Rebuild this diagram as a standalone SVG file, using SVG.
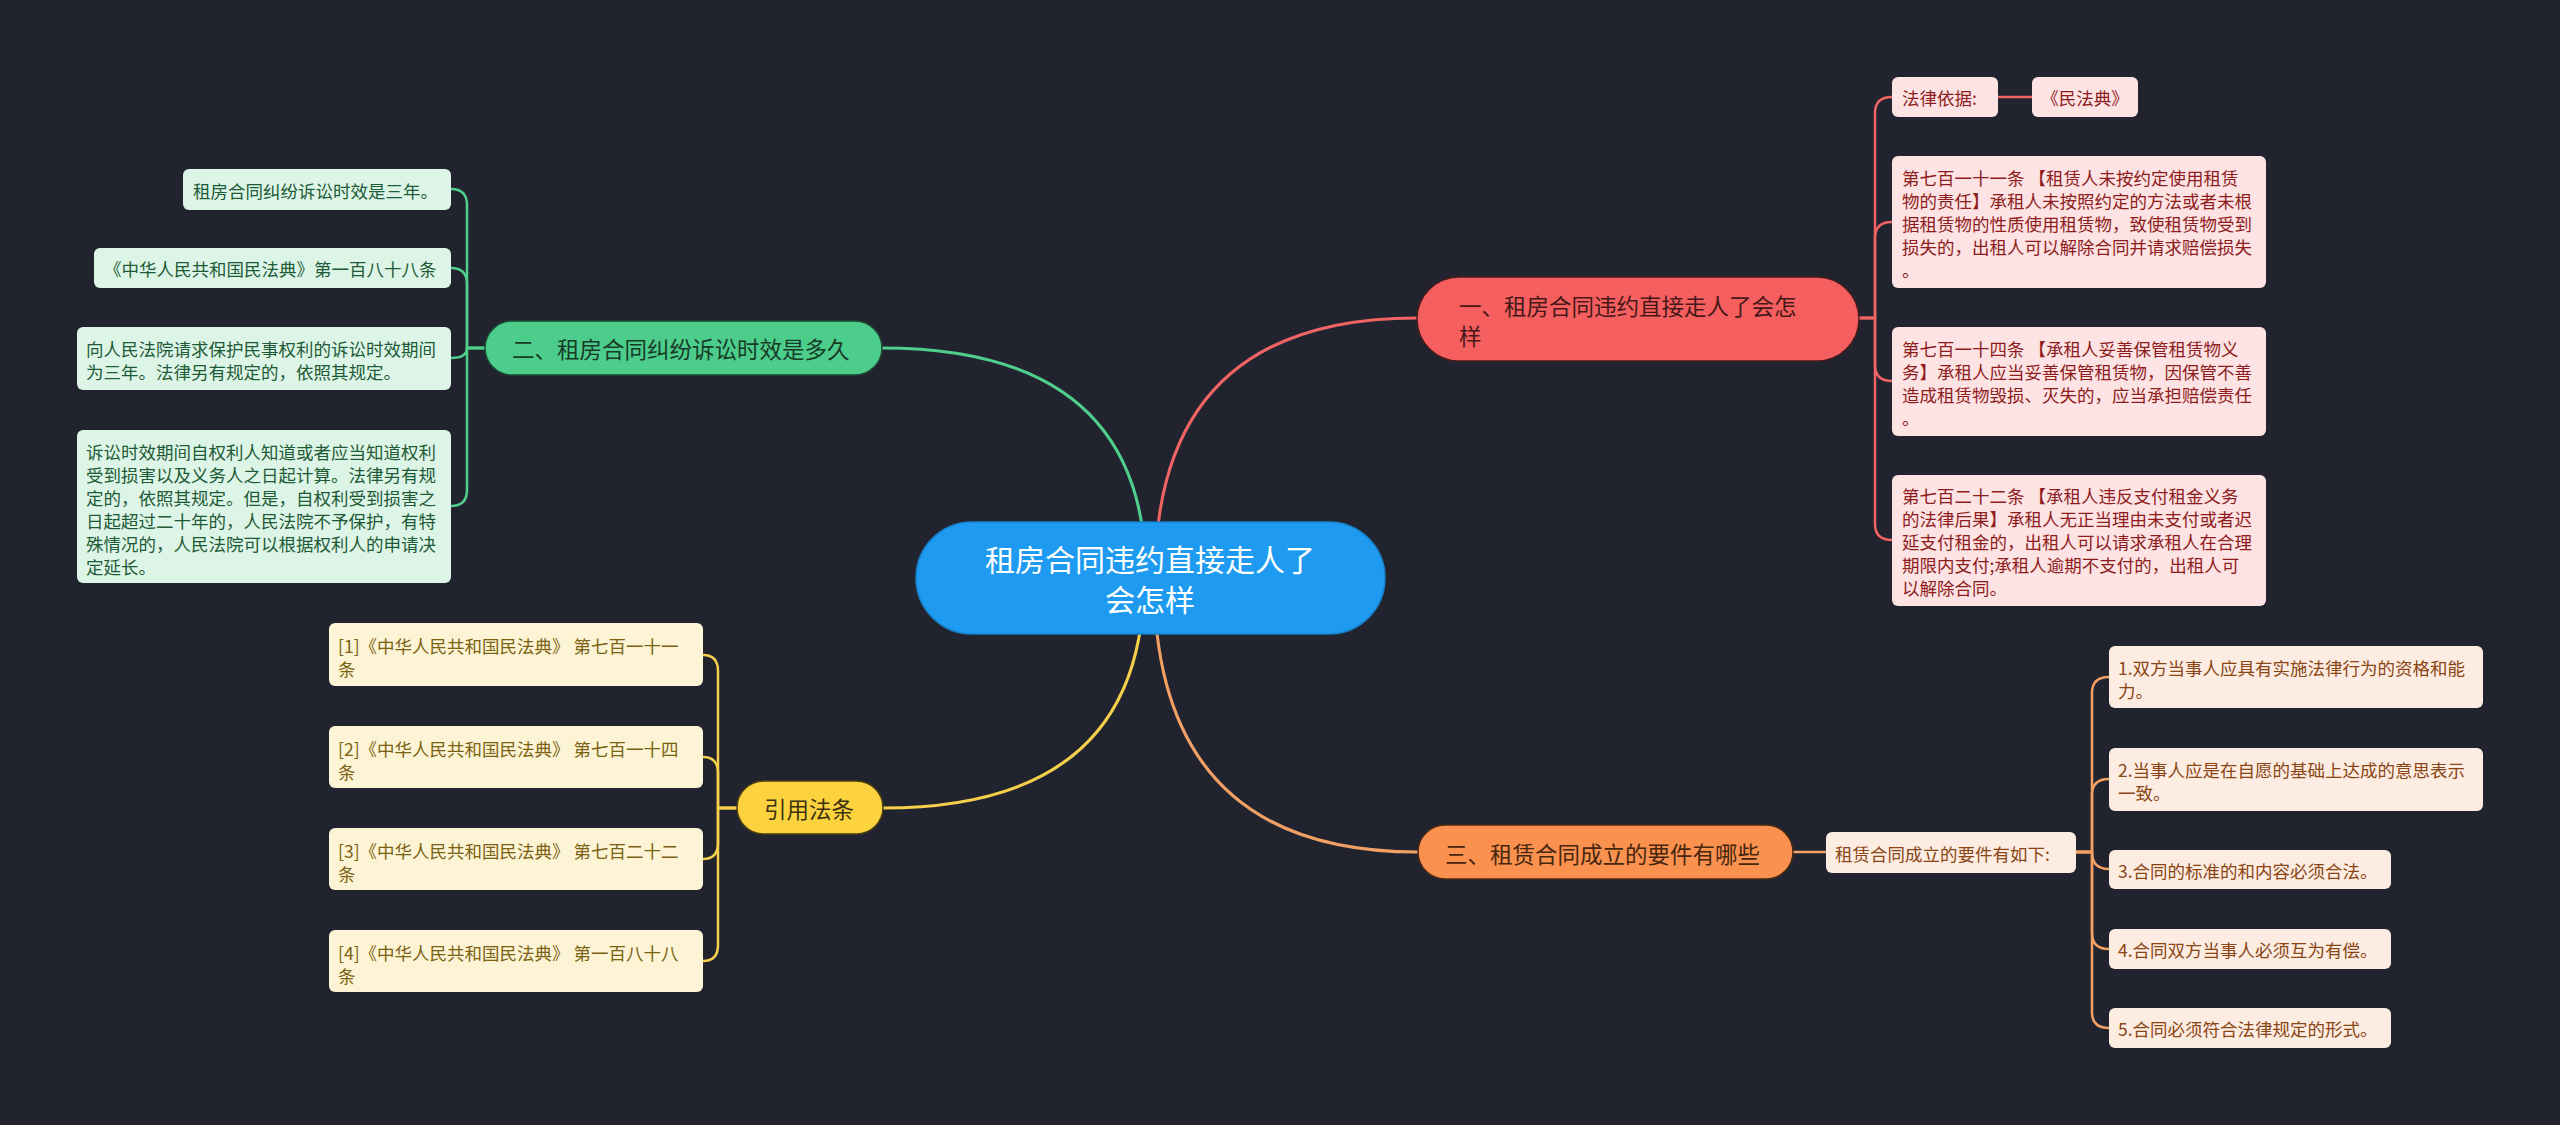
<svg xmlns="http://www.w3.org/2000/svg" width="2560" height="1125" viewBox="0 0 2560 1125">
<style>
text{font-family:"Noto Sans CJK SC","Noto Sans",sans-serif;dominant-baseline:central}
.c{fill:none;stroke-linecap:round;stroke-linejoin:round}
.g{stroke:#4fce8c}.r{stroke:#f06464}.y{stroke:#f5d04a}.o{stroke:#f2a064}
.m{stroke-width:3}.s{stroke-width:2.5}
.sub{font-size:17.5px}
.main{font-size:22.5px}
.gs rect{fill:#ddf5e7}.gs text{fill:#1d5a36}
.rs rect{fill:#fde3e3}.rs text{fill:#8e1c1c}
.ys rect{fill:#fdf4d5}.ys text{fill:#7a6212}
.os rect{fill:#fdece1}.os text{fill:#8a4514}
</style>
<rect width="2560" height="1125" fill="#21242f"/>
<g id="connectors">
<path class="c g m" d="M1146,578 Q1146,348 882,348"/>
<path class="c r m" d="M1155,578 Q1155,318 1417,318"/>
<path class="c y m" d="M1144,578 Q1144,808 883,808"/>
<path class="c o m" d="M1154,578 Q1154,852 1418,852"/>
<path class="c g s" d="M485,348 H467 V205 Q467,189 451,189"/>
<path class="c g s" d="M485,348 H467 V284 Q467,268 451,268"/>
<path class="c g s" d="M485,348 H467 Q467,358 451,358"/>
<path class="c g s" d="M485,348 H467 V490 Q467,506 451,506"/>
<path class="c r s" d="M1859,318 H1875 V113 Q1875,97 1892,97"/>
<path class="c r s" d="M1859,318 H1875 V238 Q1875,222 1892,222"/>
<path class="c r s" d="M1859,318 H1875 V365 Q1875,381 1892,381"/>
<path class="c r s" d="M1859,318 H1875 V524 Q1875,540 1892,540"/>
<path class="c r s" d="M1998,97 H2032"/>
<path class="c y s" d="M737,808 H718 V671 Q718,655 703,655"/>
<path class="c y s" d="M737,808 H718 V773 Q718,757 703,757"/>
<path class="c y s" d="M737,808 H718 V843 Q718,859 703,859"/>
<path class="c y s" d="M737,808 H718 V945 Q718,961 703,961"/>
<path class="c o s" d="M1793,852 H1826"/>
<path class="c o s" d="M2076,852 H2092 V693 Q2092,677 2109,677"/>
<path class="c o s" d="M2076,852 H2092 V795 Q2092,779 2109,779"/>
<path class="c o s" d="M2076,852 H2092 Q2092,869 2109,869"/>
<path class="c o s" d="M2076,852 H2092 V933 Q2092,949 2109,949"/>
<path class="c o s" d="M2076,852 H2092 V1012 Q2092,1028 2109,1028"/>
</g>
<g id="root">
<rect x="916" y="522" width="469" height="112" rx="56" fill="#1e9bf0" stroke="#1780c8" stroke-width="1.5"/>
<text x="1150" y="558" font-size="30" fill="#ffffff" text-anchor="middle">租房合同违约直接走人了</text>
<text x="1150" y="598" font-size="30" fill="#ffffff" text-anchor="middle">会怎样</text>
</g>
<g id="n1">
<rect x="1417" y="277" width="442" height="84" rx="42" fill="#f65f5f" stroke="#4a1c1c" stroke-width="1.5"/>
<text class="main" x="1459" y="305" fill="#471818">一、租房合同违约直接走人了会怎</text>
<text class="main" x="1459" y="335" fill="#471818">样</text>
</g>
<g id="n2">
<rect x="485" y="321" width="397" height="54" rx="27" fill="#4ccd8b" stroke="#1e4a33" stroke-width="1.5"/>
<text class="main" x="512" y="348" fill="#173b27">二、租房合同纠纷诉讼时效是多久</text>
</g>
<g id="n3">
<rect x="1418" y="825" width="375" height="54" rx="27" fill="#fa914f" stroke="#4a2a14" stroke-width="1.5"/>
<text class="main" x="1445" y="853" fill="#47260e">三、租赁合同成立的要件有哪些</text>
</g>
<g id="n4">
<rect x="737" y="781" width="146" height="53" rx="26.5" fill="#fcd23f" stroke="#4a3e10" stroke-width="1.5"/>
<text class="main" x="764" y="808" fill="#3d3210">引用法条</text>
</g>
<g id="g1" class="gs">
<rect x="183" y="169" width="268" height="41" rx="6"/>
<text class="sub" x="193" y="190">租房合同纠纷诉讼时效是三年。</text>
</g>
<g id="g2" class="gs">
<rect x="94" y="248" width="357" height="40" rx="6"/>
<text class="sub" x="104" y="268">《中华人民共和国民法典》第一百八十八条</text>
</g>
<g id="g3" class="gs">
<rect x="77" y="327" width="374" height="63" rx="6"/>
<text class="sub" x="86" y="348">向人民法院请求保护民事权利的诉讼时效期间</text>
<text class="sub" x="86" y="371">为三年。法律另有规定的，依照其规定。</text>
</g>
<g id="g4" class="gs">
<rect x="77" y="430" width="374" height="153" rx="6"/>
<text class="sub" x="86" y="451">诉讼时效期间自权利人知道或者应当知道权利</text>
<text class="sub" x="86" y="474">受到损害以及义务人之日起计算。法律另有规</text>
<text class="sub" x="86" y="497">定的，依照其规定。但是，自权利受到损害之</text>
<text class="sub" x="86" y="520">日起超过二十年的，人民法院不予保护，有特</text>
<text class="sub" x="86" y="543">殊情况的，人民法院可以根据权利人的申请决</text>
<text class="sub" x="86" y="566">定延长。</text>
</g>
<g id="r1" class="rs">
<rect x="1892" y="77" width="106" height="40" rx="6"/>
<text class="sub" x="1902" y="97">法律依据:</text>
</g>
<g id="r1a" class="rs">
<rect x="2032" y="77" width="106" height="40" rx="6"/>
<text class="sub" x="2085" y="97" text-anchor="middle">《民法典》</text>
</g>
<g id="r2" class="rs">
<rect x="1892" y="156" width="374" height="132" rx="6"/>
<text class="sub" x="1902" y="177">第七百一十一条 【租赁人未按约定使用租赁</text>
<text class="sub" x="1902" y="200">物的责任】承租人未按照约定的方法或者未根</text>
<text class="sub" x="1902" y="223">据租赁物的性质使用租赁物，致使租赁物受到</text>
<text class="sub" x="1902" y="246">损失的，出租人可以解除合同并请求赔偿损失</text>
<text class="sub" x="1902" y="269">。</text>
</g>
<g id="r3" class="rs">
<rect x="1892" y="327" width="374" height="109" rx="6"/>
<text class="sub" x="1902" y="348">第七百一十四条 【承租人妥善保管租赁物义</text>
<text class="sub" x="1902" y="371">务】承租人应当妥善保管租赁物，因保管不善</text>
<text class="sub" x="1902" y="394">造成租赁物毁损、灭失的，应当承担赔偿责任</text>
<text class="sub" x="1902" y="417">。</text>
</g>
<g id="r4" class="rs">
<rect x="1892" y="475" width="374" height="131" rx="6"/>
<text class="sub" x="1902" y="495">第七百二十二条 【承租人违反支付租金义务</text>
<text class="sub" x="1902" y="518">的法律后果】承租人无正当理由未支付或者迟</text>
<text class="sub" x="1902" y="541">延支付租金的，出租人可以请求承租人在合理</text>
<text class="sub" x="1902" y="564">期限内支付;承租人逾期不支付的，出租人可</text>
<text class="sub" x="1902" y="587">以解除合同。</text>
</g>
<g id="y1" class="ys">
<rect x="329" y="623" width="374" height="63" rx="6"/>
<text class="sub" x="338" y="645">[1]《中华人民共和国民法典》 第七百一十一</text>
<text class="sub" x="338" y="668">条</text>
</g>
<g id="y2" class="ys">
<rect x="329" y="726" width="374" height="62" rx="6"/>
<text class="sub" x="338" y="748">[2]《中华人民共和国民法典》 第七百一十四</text>
<text class="sub" x="338" y="771">条</text>
</g>
<g id="y3" class="ys">
<rect x="329" y="828" width="374" height="62" rx="6"/>
<text class="sub" x="338" y="850">[3]《中华人民共和国民法典》 第七百二十二</text>
<text class="sub" x="338" y="873">条</text>
</g>
<g id="y4" class="ys">
<rect x="329" y="930" width="374" height="62" rx="6"/>
<text class="sub" x="338" y="952">[4]《中华人民共和国民法典》 第一百八十八</text>
<text class="sub" x="338" y="975">条</text>
</g>
<g id="o0" class="os">
<rect x="1826" y="832" width="250" height="41" rx="6"/>
<text class="sub" x="1835" y="853">租赁合同成立的要件有如下:</text>
</g>
<g id="o1" class="os">
<rect x="2109" y="646" width="374" height="62" rx="6"/>
<text class="sub" x="2118" y="667">1.双方当事人应具有实施法律行为的资格和能</text>
<text class="sub" x="2118" y="690">力。</text>
</g>
<g id="o2" class="os">
<rect x="2109" y="748" width="374" height="63" rx="6"/>
<text class="sub" x="2118" y="769">2.当事人应是在自愿的基础上达成的意思表示</text>
<text class="sub" x="2118" y="792">一致。</text>
</g>
<g id="o3" class="os">
<rect x="2109" y="850" width="282" height="39" rx="6"/>
<text class="sub" x="2118" y="870">3.合同的标准的和内容必须合法。</text>
</g>
<g id="o4" class="os">
<rect x="2109" y="929" width="282" height="40" rx="6"/>
<text class="sub" x="2118" y="949">4.合同双方当事人必须互为有偿。</text>
</g>
<g id="o5" class="os">
<rect x="2109" y="1008" width="282" height="40" rx="6"/>
<text class="sub" x="2118" y="1028">5.合同必须符合法律规定的形式。</text>
</g>
</svg>
